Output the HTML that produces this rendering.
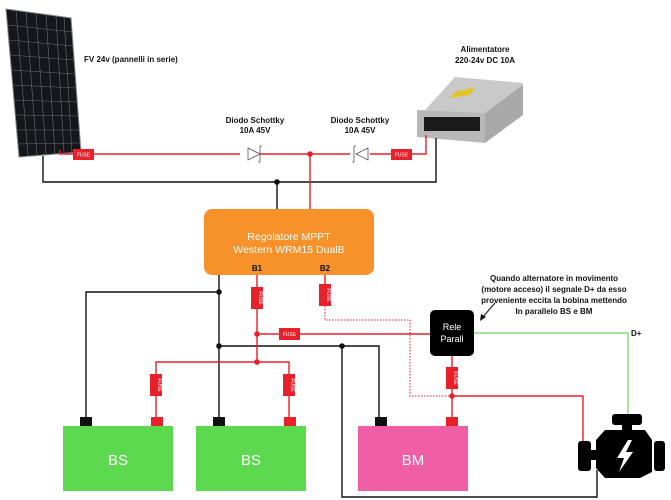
<!DOCTYPE html>
<html><head><meta charset="utf-8"><style>
html,body{margin:0;padding:0;background:#fff;width:671px;height:500px;overflow:hidden}
svg{display:block}
text{font-family:"Liberation Sans",sans-serif}
.l{font-size:8px;font-weight:bold;fill:#111}
.f{font-size:5px;fill:#fff}
</style></head><body>
<svg width="671" height="500" viewBox="0 0 671 500" xmlns="http://www.w3.org/2000/svg">
<polygon points="6,9 71,18 81,152 19,157" fill="#15171c" stroke="#888" stroke-width="1"/>
<g stroke="#6a6d75" stroke-width="0.6">
<line x1="16" y1="10" x2="28" y2="156"/><line x1="26" y1="12" x2="37" y2="155"/><line x1="36" y1="13" x2="46" y2="155"/><line x1="46" y1="14" x2="55" y2="154"/><line x1="56" y1="16" x2="64" y2="153"/><line x1="64" y1="17" x2="72" y2="153"/>
<line x1="8" y1="25" x2="72" y2="32"/><line x1="9" y1="40" x2="73" y2="46"/><line x1="10" y1="55" x2="74" y2="60"/><line x1="11" y1="70" x2="75" y2="74"/><line x1="13" y1="85" x2="76" y2="88"/><line x1="14" y1="100" x2="77" y2="102"/><line x1="15" y1="115" x2="78" y2="116"/><line x1="17" y1="130" x2="79" y2="130"/><line x1="18" y1="144" x2="80" y2="143"/>
</g>
<text class="l" x="84" y="62">FV 24v (pannelli in serie)</text>
<polygon points="425,110 455,77 523,83 520,118" fill="#c9c9c9"/>
<polygon points="455,92 475,87 470,95 450,98" fill="#e3c52a"/>
<polygon points="417,110 485,113 485,143 417,137" fill="#b8b8b8"/>
<polygon points="485,113 523,85 523,115 485,143" fill="#a9a9a9"/>
<rect x="424" y="117" width="56" height="14" fill="#1b1b1b"/>
<text class="l" x="485" y="52" text-anchor="middle">Alimentatore</text>
<text class="l" x="485" y="63" text-anchor="middle">220-24v DC 10A</text>
<g stroke="#111" stroke-width="1.4" fill="none">
<polyline points="43,156 43,182 436,182 436,138"/>
<line x1="277" y1="182" x2="277" y2="210"/>
<polyline points="219,275 219,420"/>
<polyline points="219,292 86,292 86,418"/>
<polyline points="219,346 379,346 379,418"/>
<polyline points="342,346 342,497 597,497 597,470"/>
</g>
<circle cx="277" cy="182" r="2.8" fill="#111"/>
<circle cx="219" cy="292" r="2.8" fill="#111"/>
<circle cx="219" cy="346" r="2.8" fill="#111"/>
<circle cx="342" cy="346" r="2.8" fill="#111"/>
<g stroke="#e8202a" stroke-width="1.4" fill="none">
<polyline points="60,150 60,154 426,154 426,135"/>
<line x1="310" y1="154" x2="310" y2="210"/>
<line x1="257" y1="275" x2="257" y2="362"/>
<line x1="257" y1="334" x2="430" y2="334"/>
<polyline points="156,418 156,362 289,362 289,418"/>
<line x1="325" y1="275" x2="325" y2="306"/>
<line x1="452" y1="356" x2="452" y2="418"/>
<polyline points="452,396 583,396 583,442"/>
</g>
<polyline points="325,306 325,320 410,320 410,396 452,396" stroke="#e8202a" stroke-width="1" stroke-dasharray="1.5,1.5" fill="none"/>
<circle cx="310" cy="154" r="2.8" fill="#e8202a"/>
<circle cx="257" cy="334" r="2.8" fill="#e8202a"/>
<circle cx="257" cy="362" r="2.8" fill="#e8202a"/>
<circle cx="452" cy="396" r="2.8" fill="#e8202a"/>
<g fill="#e8202a">
<rect x="73" y="149" width="21" height="11"/><rect x="391" y="149" width="21" height="11"/>
<rect x="279" y="328" width="21" height="12"/>
<rect x="251" y="287" width="12" height="22"/><rect x="319" y="284" width="12" height="22"/>
<rect x="150" y="374" width="12" height="22"/><rect x="283" y="374" width="12" height="22"/>
<rect x="446" y="367" width="12" height="22"/>
</g>
<text class="f" x="83.5" y="156.5" text-anchor="middle">FUSE</text>
<text class="f" x="401.5" y="156.5" text-anchor="middle">FUSE</text>
<text class="f" x="289.5" y="336" text-anchor="middle">FUSE</text>
<text class="f" transform="translate(259,298) rotate(90)" text-anchor="middle">FUSE</text>
<text class="f" transform="translate(327,295) rotate(90)" text-anchor="middle">FUSE</text>
<text class="f" transform="translate(158,385) rotate(90)" text-anchor="middle">FUSE</text>
<text class="f" transform="translate(291,385) rotate(90)" text-anchor="middle">FUSE</text>
<text class="f" transform="translate(454,378) rotate(90)" text-anchor="middle">FUSE</text>
<g fill="#fff" stroke="#555" stroke-width="0.8">
<rect x="240" y="150" width="20" height="9" fill="#fff" stroke="none"/>
<polygon points="248,148 260,154 248,160"/>
<polyline points="258,162 260,162 260,146 262,146" fill="none"/>
<rect x="350" y="150" width="20" height="9" fill="#fff" stroke="none"/>
<polygon points="368,148 356,154 368,160"/>
<polyline points="352,162 354,162 354,146 356,146" fill="none"/>
</g>
<text class="l" x="255" y="123" text-anchor="middle">Diodo Schottky</text>
<text class="l" x="255" y="133" text-anchor="middle">10A 45V</text>
<text class="l" x="360" y="123" text-anchor="middle">Diodo Schottky</text>
<text class="l" x="360" y="133" text-anchor="middle">10A 45V</text>
<rect x="204" y="209" width="170" height="66" rx="8" fill="#f7922a"/>
<text x="289" y="240" text-anchor="middle" font-size="10.5" fill="#fff">Regolatore MPPT</text>
<text x="289" y="253" text-anchor="middle" font-size="10.5" fill="#fff">Western WRM15 DualB</text>
<text class="l" x="257" y="271" text-anchor="middle">B1</text>
<text class="l" x="325" y="271" text-anchor="middle">B2</text>
<rect x="430" y="310" width="44" height="46" rx="5" fill="#000"/>
<text x="452" y="330" text-anchor="middle" font-size="9" fill="#fff">Rele</text>
<text x="452" y="342" text-anchor="middle" font-size="9" fill="#fff">Parall</text>
<polyline points="474,333 628,333 628,415" stroke="#6dd35a" stroke-width="1.2" fill="none"/>
<text class="l" x="631" y="336">D+</text>
<text class="l" x="554" y="281" text-anchor="middle">Quando alternatore in movimento</text>
<text class="l" x="554" y="292" text-anchor="middle">(motore acceso) il segnale D+ da esso</text>
<text class="l" x="554" y="303" text-anchor="middle">proveniente eccita la bobina mettendo</text>
<text class="l" x="554" y="314" text-anchor="middle">In parallelo BS e BM</text>
<line x1="495" y1="303" x2="482" y2="318" stroke="#111" stroke-width="1"/>
<polygon points="480,321 481,314 486,317" fill="#111"/>
<rect x="63" y="426" width="110" height="65" fill="#5cd94e"/>
<rect x="196" y="426" width="110" height="65" fill="#5cd94e"/>
<rect x="358" y="426" width="110" height="65" fill="#f05fa5"/>
<rect x="80" y="417" width="12" height="9" fill="#111"/><rect x="151" y="417" width="12" height="9" fill="#e8202a"/>
<rect x="213" y="417" width="12" height="9" fill="#111"/><rect x="284" y="417" width="12" height="9" fill="#e8202a"/>
<rect x="375" y="417" width="12" height="9" fill="#111"/><rect x="446" y="417" width="12" height="9" fill="#e8202a"/>
<text x="118" y="465" text-anchor="middle" font-size="15" fill="#fff">BS</text>
<text x="251" y="465" text-anchor="middle" font-size="15" fill="#fff">BS</text>
<text x="413" y="465" text-anchor="middle" font-size="15" fill="#fff">BM</text>
<g fill="#000">
<rect x="612" y="414" width="30" height="11" rx="3"/>
<rect x="622" y="424" width="10" height="7"/>
<polygon points="605,430 645,430 652,440 652,472 640,478 605,478 596,468 596,440"/>
<rect x="578" y="441" width="13" height="30" rx="3"/>
<rect x="590" y="450" width="8" height="10"/>
<rect x="654" y="441" width="11" height="30" rx="3"/>
</g>
<polygon points="628,440 617,458 624,458 619,472 633,452 626,452 632,440" fill="#fff"/>
</svg>
</body></html>
